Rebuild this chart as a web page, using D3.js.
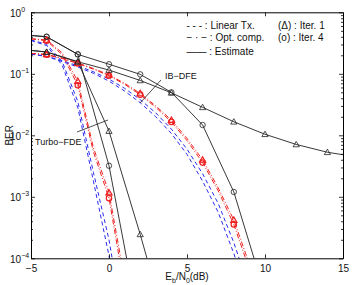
<!DOCTYPE html>
<html><head><meta charset="utf-8">
<script src="https://cdn.jsdelivr.net/npm/d3@7"></script>
<style>body{margin:0;background:#fff}svg{display:block}text{font-family:"Liberation Sans",Arial,sans-serif;fill:#111}</style>
</head><body><svg id="c" width="353" height="285"></svg>
<script>
// ---- data ----
const xTicks=[-5,0,5,10,15];
const yTicks=[1e-4,1e-3,1e-2,1e-1,1];
const yTickExps=["\u22124","\u22123","\u22122","\u22121","0"];

const turboSnr=[-5,-4,-3,-2,-1,0,1];
const turboLinIter1=[0.355,0.302,0.158,0.0355,2.5e-3,2.0e-4,6.3e-6];
const turboLinIter4=[0.347,0.288,0.138,0.0282,1.8e-3,1.1e-4,3.2e-6];
const turboOptIter1=[0.372,0.355,0.219,0.0759,6.3e-3,1.17e-3,4.5e-5];
const turboOptIter4=[0.370,0.345,0.205,0.0650,5.4e-3,9.5e-4,3.2e-5];
const turboEstSnr1=[-5,-4,-2,0,2,4];
const turboEstIter1=[0.24,0.226,0.157,0.0117,2.45e-4,4e-6];
const turboEstSnr4=[-5,-4,-2,0,2];
const turboEstIter4=[0.42,0.40,0.207,0.0032,7e-6];

const ibSnr=[-5,-4,-3,-2,-1,0,1,2,3,4,5,6,7,8,9,10];
const ibOptIter1=[0.215,0.207,0.18,0.15,0.122,0.096,0.07,0.048,0.030,0.0177,0.0089,0.0040,0.0014,4.2e-4,8e-5,1.2e-5];
const ibOptIter4=[0.214,0.204,0.177,0.147,0.119,0.0929,0.0675,0.0458,0.0284,0.0165,8.2e-3,3.6e-3,1.25e-3,3.56e-4,6.6e-5,1e-5];
const ibLinSnr=[-5,-4,-3,-2,-1,0,1,2,3,4,5,6,7,8,9];
const ibLinIter1=[0.211,0.193,0.164,0.135,0.108,0.082,0.058,0.038,0.0231,0.0126,5.96e-3,2.37e-3,7.8e-4,1.8e-4,3.2e-5];
const ibLinIter4=[0.209,0.191,0.158,0.129,0.102,0.076,0.0525,0.0339,0.020,0.0107,4.9e-3,1.8e-3,5.6e-4,1.2e-4,2e-5];
const ibEstSnr1=[-5,-4,-2,0,2,4,6,8,10,12,14,16];
const ibEstIter1=[0.24,0.226,0.157,0.115,0.078,0.049,0.0285,0.0166,0.0104,0.0071,0.0053,0.0044];
const ibEstSnr4=[-5,-4,-2,0,2,4,6,8,10];
const ibEstIter4=[0.42,0.40,0.207,0.143,0.098,0.050,0.0147,0.0012,2.6e-5];

// ---- layout ----
const L=31,R=343,T=12.3,B=258.3;
const svg=d3.select("#c");
const x=d3.scaleLinear().domain([-5,15]).range([L,R]);
const y=d3.scaleLog().domain([1e-4,1]).range([B,T]);

const styles={
  lin:{stroke:"#2a2aee",dash:"4,3",w:1},
  opt:{stroke:"#ee2020",dash:"5,2,1,2",w:1},
  est:{stroke:"#222",dash:null,w:0.9}
};
const curves=[
  {xs:turboSnr,ys:turboLinIter1,s:"lin"},
  {xs:turboSnr,ys:turboLinIter4,s:"lin"},
  {xs:ibLinSnr,ys:ibLinIter1,s:"lin"},
  {xs:ibLinSnr,ys:ibLinIter4,s:"lin"},
  {xs:turboSnr,ys:turboOptIter1,s:"opt",m:"tri",mmax:8},
  {xs:turboSnr,ys:turboOptIter4,s:"opt",m:"circ",mmax:8},
  {xs:ibSnr,ys:ibOptIter1,s:"opt",m:"tri",mmax:8},
  {xs:ibSnr,ys:ibOptIter4,s:"opt",m:"circ",mmax:8},
  {xs:turboEstSnr1,ys:turboEstIter1,s:"est",m:"tri",mmax:14},
  {xs:turboEstSnr4,ys:turboEstIter4,s:"est",m:"circ",mmax:14},
  {xs:ibEstSnr1,ys:ibEstIter1,s:"est",m:"tri",mmax:14},
  {xs:ibEstSnr4,ys:ibEstIter4,s:"est",m:"circ",mmax:14}
];

svg.append("clipPath").attr("id","clip").append("rect")
  .attr("x",L).attr("y",T).attr("width",R-L).attr("height",B-T);
const plot=svg.append("g").attr("clip-path","url(#clip)");
const line=d3.line().x(d=>x(d[0])).y(d=>y(d[1]));

curves.forEach(c=>{
  const st=styles[c.s];
  const pts=c.xs.map((v,i)=>[v,c.ys[i]]);
  plot.append("path").attr("d",line(pts)).attr("fill","none")
    .attr("stroke",st.stroke).attr("stroke-width",st.w)
    .attr("stroke-dasharray",st.dash);
});
curves.forEach(c=>{
  if(!c.m)return;
  const st=styles[c.s];
  const pts=c.xs.map((v,i)=>[v,c.ys[i]]).filter(p=>p[0]%2===0&&p[0]>=-4&&p[0]<=c.mmax&&p[1]>=1e-4);
  const sw=c.s==="opt"?1.2:0.8;
  pts.forEach(p=>{
    const cx=x(p[0]),cy=y(p[1]);
    if(c.m==="circ"){
      plot.append("circle").attr("cx",cx).attr("cy",cy).attr("r",2.7)
        .attr("fill","none").attr("stroke",st.stroke).attr("stroke-width",sw);
    }else{
      const h=3.1;
      plot.append("path").attr("d",`M${cx},${cy-h}L${cx+h},${cy+h*0.75}L${cx-h},${cy+h*0.75}Z`)
        .attr("fill","none").attr("stroke",st.stroke).attr("stroke-width",sw);
    }
  });
});

// ---- axes ----
const minor=[];
for(let e=-4;e<0;e++)for(let k=2;k<=9;k++)minor.push(k*Math.pow(10,e));
function styleAxis(g){g.select(".domain").attr("stroke","#000");g.selectAll(".tick line").attr("stroke","#000").attr("stroke-width",0.8);}
svg.append("g").attr("transform",`translate(0,${B})`)
  .call(d3.axisBottom(x).tickValues(xTicks).tickSize(-4).tickSizeOuter(0).tickPadding(6.5))
  .call(styleAxis)
  .call(g=>g.selectAll("text").attr("font-size",10).attr("font-family","Liberation Sans, Arial").attr("fill","#111"));
svg.append("g").attr("transform",`translate(0,${T})`)
  .call(d3.axisTop(x).tickValues(xTicks).tickSize(-4).tickSizeOuter(0).tickFormat(""))
  .call(styleAxis);
svg.append("g").attr("transform",`translate(${L},0)`)
  .call(d3.axisLeft(y).tickValues(yTicks).tickSize(-4).tickSizeOuter(0).tickFormat(""))
  .call(styleAxis);
svg.append("g").attr("transform",`translate(${R},0)`)
  .call(d3.axisRight(y).tickValues(yTicks).tickSize(-4).tickSizeOuter(0).tickFormat(""))
  .call(styleAxis);
svg.append("g").attr("transform",`translate(${L},0)`)
  .call(d3.axisLeft(y).tickValues(minor).tickSize(-2).tickSizeOuter(0).tickFormat(""))
  .call(g=>g.select(".domain").remove()).call(styleAxis);
svg.append("g").attr("transform",`translate(${R},0)`)
  .call(d3.axisRight(y).tickValues(minor).tickSize(-2).tickSizeOuter(0).tickFormat(""))
  .call(g=>g.select(".domain").remove()).call(styleAxis);

// y tick labels 10^n
yTicks.forEach((v,i)=>{
  const t=svg.append("text").attr("x",10).attr("y",y(v)+4.3).attr("font-size",10);
  t.append("tspan").text("10");
  t.append("tspan").attr("font-size",7).attr("dy",-5).text(yTickExps[i]);
});

// axis titles
svg.append("text").attr("transform",`translate(12.5,${(T+B)/2}) rotate(-90)`)
  .attr("text-anchor","middle").attr("font-size",10).text("BER");
const xl=svg.append("text").attr("x",(L+R)/2).attr("y",280).attr("text-anchor","middle").attr("font-size",10);
xl.append("tspan").text("E");
xl.append("tspan").attr("font-size",7).attr("dy",2.5).text("b");
xl.append("tspan").attr("dy",-2.5).text("/N");
xl.append("tspan").attr("font-size",7).attr("dy",2.5).text("0");
xl.append("tspan").attr("dy",-2.5).text("(dB)");

// legend (text annotation)
const leg=[
  {t:"- - - : Linear Tx.",y:28.5},
  {t:"\u2212 \u00b7 \u2212 : Opt. comp.",y:41},
  {t:"\u2014\u2014 : Estimate",y:55}
];
leg.forEach(d=>svg.append("text").attr("x",186.5).attr("y",d.y).attr("font-size",10).attr("fill","#222").text(d.t));
svg.append("text").attr("x",278).attr("y",28.5).attr("font-size",10).text("(\u0394) :  Iter. 1");
svg.append("text").attr("x",278).attr("y",41).attr("font-size",10).text("(o) : Iter. 4");

// annotations
svg.append("text").attr("x",165).attr("y",78.5).attr("font-size",9).text("IB\u2212DFE");
svg.append("line").attr("x1",161).attr("y1",80).attr("x2",140).attr("y2",103).attr("stroke","#222").attr("stroke-width",0.8);
svg.append("text").attr("x",35).attr("y",145).attr("font-size",9).text("Turbo\u2212FDE");
svg.append("line").attr("x1",77).attr("y1",132).attr("x2",108).attr("y2",120).attr("stroke","#222").attr("stroke-width",0.8);
</script></body></html>
